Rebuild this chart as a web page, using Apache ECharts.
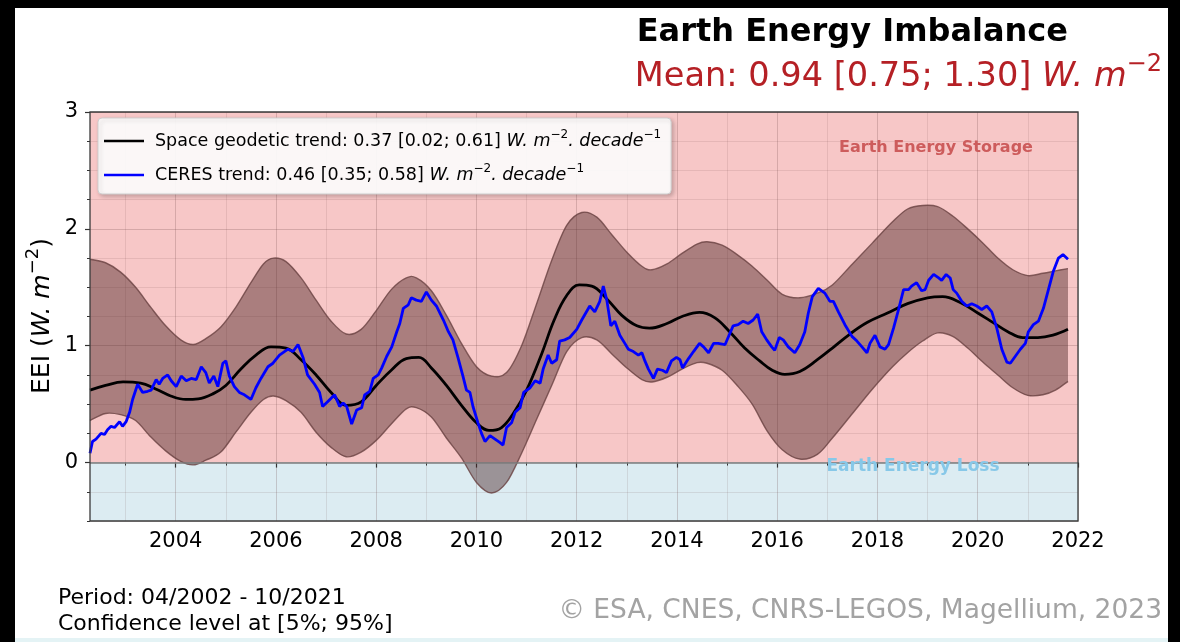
<!DOCTYPE html>
<html>
<head>
<meta charset="utf-8">
<script src="https://cdn.jsdelivr.net/npm/echarts@6.0.0/dist/echarts.min.js"></script>
<style>
  html, body { margin: 0; padding: 0; background: #ffffff; }
  #chart { width: 1180px; height: 642px; }
</style>
</head>
<body>
<div id="chart"></div>
<script>
// Space geodetic estimate of the Earth Energy Imbalance (smoothed), W.m-2
const geodeticYears = [2002.29, 2002.6, 2002.95, 2003.3, 2003.6, 2003.9, 2004.2, 2004.45, 2004.75, 2005.0,
  2005.3, 2005.6, 2005.9, 2006.2, 2006.5, 2006.8, 2007.1, 2007.4, 2007.7, 2008.0,
  2008.3, 2008.6, 2008.85, 2009.1, 2009.4, 2009.7, 2010.0, 2010.25, 2010.5, 2010.75,
  2011.0, 2011.3, 2011.55, 2011.8, 2012.05, 2012.3, 2012.6, 2012.9, 2013.2, 2013.45,
  2013.8, 2014.1, 2014.45, 2014.75, 2015.05, 2015.35, 2015.65, 2015.9, 2016.15, 2016.45,
  2016.8, 2017.1, 2017.45, 2017.8, 2018.2, 2018.6, 2019.0, 2019.3, 2019.65, 2020.0,
  2020.3, 2020.6, 2020.9, 2021.2, 2021.5, 2021.8];
const geodeticValues = [0.62, 0.66, 0.69, 0.68, 0.63, 0.57, 0.54, 0.545, 0.59, 0.66,
  0.80, 0.92, 0.99, 0.98, 0.88, 0.75, 0.60, 0.49, 0.52, 0.66,
  0.79, 0.89, 0.90, 0.81, 0.66, 0.49, 0.34, 0.275, 0.30, 0.43,
  0.62, 0.93, 1.22, 1.43, 1.52, 1.51, 1.40, 1.26, 1.17, 1.15,
  1.19, 1.25, 1.285, 1.24, 1.12, 0.98, 0.87, 0.79, 0.755, 0.78,
  0.88, 0.98, 1.10, 1.20, 1.28, 1.36, 1.41, 1.42, 1.37, 1.28,
  1.20, 1.12, 1.07, 1.07, 1.09, 1.14];

// Confidence interval [5%; 95%] of the space geodetic estimate
const bandYears = [2002.29, 2002.6, 2002.9, 2003.2, 2003.5, 2003.8, 2004.1, 2004.35, 2004.6, 2004.9,
  2005.2, 2005.5, 2005.75, 2005.95, 2006.2, 2006.5, 2006.8, 2007.1, 2007.4, 2007.7,
  2008.0, 2008.3, 2008.6, 2008.8, 2009.1, 2009.4, 2009.7, 2010.0, 2010.3, 2010.6,
  2010.9, 2011.2, 2011.5, 2011.8, 2012.1, 2012.4, 2012.7, 2013.0, 2013.3, 2013.5,
  2013.8, 2014.1, 2014.4, 2014.6, 2014.9, 2015.2, 2015.5, 2015.8, 2016.1, 2016.45,
  2016.8, 2017.1, 2017.5, 2017.9, 2018.3, 2018.6, 2018.9, 2019.2, 2019.5, 2019.8,
  2020.1, 2020.4, 2020.7, 2021.0, 2021.3, 2021.55, 2021.8];
const bandUpper = [1.74, 1.71, 1.63, 1.50, 1.33, 1.17, 1.05, 1.01, 1.06, 1.16,
  1.33, 1.54, 1.70, 1.75, 1.72, 1.58, 1.39, 1.21, 1.10, 1.14,
  1.30, 1.48, 1.58, 1.58, 1.47, 1.26, 1.02, 0.82, 0.74, 0.77,
  1.00, 1.36, 1.73, 2.03, 2.14, 2.10, 1.95, 1.80, 1.68, 1.65,
  1.70, 1.79, 1.87, 1.89, 1.86, 1.78, 1.68, 1.56, 1.44, 1.41,
  1.45, 1.52, 1.70, 1.88, 2.06, 2.17, 2.20, 2.19, 2.11, 2.00,
  1.88, 1.75, 1.65, 1.60, 1.62, 1.64, 1.66];
const bandLower = [0.36, 0.42, 0.41, 0.36, 0.22, 0.10, 0.01, -0.02, 0.02, 0.09,
  0.26, 0.43, 0.54, 0.57, 0.53, 0.43, 0.26, 0.13, 0.05, 0.09,
  0.19, 0.33, 0.46, 0.47, 0.39, 0.21, 0.04, -0.17, -0.26, -0.17,
  0.08, 0.37, 0.66, 0.95, 1.07, 1.05, 0.93, 0.81, 0.71, 0.69,
  0.73, 0.80, 0.855, 0.85, 0.79, 0.66, 0.50, 0.27, 0.11, 0.03,
  0.07, 0.21, 0.42, 0.63, 0.82, 0.94, 1.04, 1.11, 1.08, 0.98,
  0.86, 0.75, 0.64, 0.575, 0.58, 0.62, 0.695];

// CERES monthly series, W.m-2
const ceresYears = [2002.29, 2002.34, 2002.41, 2002.51, 2002.58, 2002.64, 2002.71, 2002.78, 2002.88, 2002.94,
  2003.01, 2003.08, 2003.14, 2003.24, 2003.34, 2003.44, 2003.51, 2003.61, 2003.67, 2003.74,
  2003.84, 2003.91, 2004.01, 2004.11, 2004.21, 2004.31, 2004.41, 2004.51, 2004.60, 2004.67,
  2004.76, 2004.84, 2004.94, 2005.00, 2005.07, 2005.17, 2005.27, 2005.37, 2005.50, 2005.60,
  2005.70, 2005.84, 2005.94, 2006.07, 2006.24, 2006.34, 2006.44, 2006.54, 2006.63, 2006.77,
  2006.87, 2006.93, 2007.03, 2007.17, 2007.27, 2007.34, 2007.41, 2007.51, 2007.61, 2007.71,
  2007.77, 2007.87, 2007.94, 2008.04, 2008.11, 2008.21, 2008.31, 2008.41, 2008.47, 2008.54,
  2008.64, 2008.70, 2008.80, 2008.90, 2009.00, 2009.10, 2009.20, 2009.34, 2009.44, 2009.53,
  2009.63, 2009.73, 2009.80, 2009.87, 2009.93, 2010.03, 2010.10, 2010.17, 2010.27, 2010.37,
  2010.47, 2010.53, 2010.60, 2010.70, 2010.77, 2010.87, 2010.94, 2011.07, 2011.17, 2011.27,
  2011.33, 2011.43, 2011.50, 2011.60, 2011.66, 2011.76, 2011.86, 2012.00, 2012.10, 2012.26,
  2012.36, 2012.46, 2012.53, 2012.60, 2012.68, 2012.76, 2012.86, 2012.96, 2013.03, 2013.13,
  2013.23, 2013.30, 2013.36, 2013.43, 2013.53, 2013.61, 2013.71, 2013.79, 2013.89, 2013.99,
  2014.06, 2014.11, 2014.23, 2014.33, 2014.45, 2014.53, 2014.63, 2014.73, 2014.82, 2014.96,
  2015.02, 2015.12, 2015.22, 2015.32, 2015.42, 2015.52, 2015.61, 2015.69, 2015.79, 2015.89,
  2015.95, 2016.04, 2016.12, 2016.22, 2016.35, 2016.45, 2016.55, 2016.62, 2016.70, 2016.82,
  2016.95, 2017.05, 2017.12, 2017.22, 2017.35, 2017.49, 2017.59, 2017.69, 2017.79, 2017.85,
  2017.95, 2018.05, 2018.15, 2018.22, 2018.32, 2018.42, 2018.52, 2018.62, 2018.68, 2018.78,
  2018.88, 2018.95, 2019.02, 2019.12, 2019.22, 2019.28, 2019.37, 2019.45, 2019.51, 2019.58,
  2019.68, 2019.78, 2019.88, 2019.98, 2020.08, 2020.18, 2020.28, 2020.38, 2020.48, 2020.58,
  2020.65, 2020.75, 2020.85, 2020.95, 2021.01, 2021.11, 2021.21, 2021.31, 2021.41, 2021.51,
  2021.61, 2021.70, 2021.80];
const ceresValues = [0.08, 0.18, 0.20, 0.25, 0.24, 0.28, 0.31, 0.30, 0.35, 0.31,
  0.35, 0.43, 0.54, 0.67, 0.60, 0.61, 0.62, 0.71, 0.67, 0.72,
  0.75, 0.70, 0.65, 0.74, 0.70, 0.72, 0.71, 0.82, 0.77, 0.68,
  0.74, 0.65, 0.85, 0.87, 0.74, 0.65, 0.60, 0.58, 0.54, 0.64,
  0.72, 0.82, 0.85, 0.92, 0.97, 0.95, 1.01, 0.90, 0.75, 0.67,
  0.60, 0.48, 0.52, 0.58, 0.48, 0.51, 0.48, 0.33, 0.45, 0.47,
  0.58, 0.61, 0.72, 0.75, 0.81, 0.91, 0.99, 1.12, 1.19, 1.32,
  1.35, 1.41, 1.39, 1.38, 1.46, 1.39, 1.34, 1.22, 1.12, 1.05,
  0.90, 0.74, 0.62, 0.60, 0.48, 0.34, 0.25, 0.18, 0.23, 0.20,
  0.17, 0.15, 0.30, 0.34, 0.43, 0.47, 0.60, 0.64, 0.70, 0.68,
  0.80, 0.92, 0.85, 0.88, 1.04, 1.05, 1.07, 1.14, 1.22, 1.34,
  1.29, 1.38, 1.51, 1.39, 1.17, 1.21, 1.09, 1.02, 0.97, 0.95,
  0.92, 0.94, 0.87, 0.80, 0.72, 0.80, 0.79, 0.77, 0.87, 0.90,
  0.88, 0.81, 0.89, 0.95, 1.02, 0.99, 0.94, 1.02, 1.02, 1.01,
  1.07, 1.17, 1.18, 1.21, 1.19, 1.22, 1.27, 1.12, 1.05, 0.99,
  0.96, 1.07, 1.05, 0.99, 0.94, 1.01, 1.12, 1.28, 1.42, 1.49,
  1.45, 1.38, 1.38, 1.29, 1.18, 1.08, 1.04, 0.99, 0.94, 1.02,
  1.09, 0.99, 0.97, 1.01, 1.15, 1.31, 1.48, 1.48, 1.51, 1.54,
  1.47, 1.48, 1.56, 1.61, 1.58, 1.56, 1.61, 1.58, 1.48, 1.45,
  1.38, 1.34, 1.36, 1.34, 1.31, 1.34, 1.29, 1.15, 0.97, 0.86,
  0.85, 0.91, 0.97, 1.02, 1.12, 1.18, 1.21, 1.32, 1.48, 1.64,
  1.75, 1.78, 1.74];

// Axis ticks
const xMajorTicks = [2004, 2006, 2008, 2010, 2012, 2014, 2016, 2018, 2020, 2022];
const xMinorTicks = [2003, 2005, 2007, 2009, 2011, 2013, 2015, 2017, 2019, 2021];
const yMajorTicks = [0, 1, 2, 3];

const FONT = 'DejaVu Sans';
const zip = (xs, ys) => xs.map((x, i) => [x, ys[i]]);

// Rich text styles for "W. m^-2" style unit strings (color for components, fill for graphics)
const unitRich = (size, color) => {
  const sup = Math.round(size * 0.7);
  return {
    t: { fontFamily: FONT, fontSize: size, color: color, fill: color, lineHeight: size + 4 },
    i: { fontFamily: FONT, fontSize: size, fontStyle: 'italic', color: color, fill: color, lineHeight: size + 4 },
    s: { fontFamily: FONT, fontSize: sup, color: color, fill: color, lineHeight: sup, padding: [0, 0, sup, 0] }
  };
};

const legendText = {
  'Space geodetic trend': '{t|Space geodetic trend: 0.37 [0.02; 0.61] }{i|W. m}{s|\u22122}{i|. decade}{s|\u22121}',
  'CERES trend': '{t|CERES trend: 0.46 [0.35; 0.58] }{i|W. m}{s|\u22122}{i|. decade}{s|\u22121}'
};

// Smooth path through screen points (Catmull-Rom converted to cubic Bezier)
function smoothPath(pts, start) {
  let d = (start ? 'M' : 'L') + pts[0][0] + ',' + pts[0][1];
  for (let i = 0; i < pts.length - 1; i++) {
    const p0 = pts[i - 1] || pts[i], p1 = pts[i], p2 = pts[i + 1], p3 = pts[i + 2] || p2;
    const c1x = p1[0] + (p2[0] - p0[0]) / 6, c1y = p1[1] + (p2[1] - p0[1]) / 6;
    const c2x = p2[0] - (p3[0] - p1[0]) / 6, c2y = p2[1] - (p3[1] - p1[1]) / 6;
    d += 'C' + c1x + ',' + c1y + ',' + c2x + ',' + c2y + ',' + p2[0] + ',' + p2[1];
  }
  return d;
}

const chart = echarts.init(document.getElementById('chart'), null, { renderer: 'canvas' });

const minorGrid = 'rgba(110,70,70,0.13)';
const majorGrid = 'rgba(110,70,70,0.24)';
const bandEdge = 'rgba(105,65,65,0.8)';
const bandFill = 'rgba(70,30,30,0.43)';

chart.setOption({
  animation: false,
  backgroundColor: '#ffffff',
  grid: {
    left: 90, right: 102, top: 112, bottom: 121,
    show: true, z: 5,
    backgroundColor: 'transparent',
    borderColor: '#3a3a3a', borderWidth: 1.3
  },
  legend: {
    left: 98, top: 118,
    orient: 'vertical',
    itemGap: 10, itemWidth: 40, itemHeight: 2.5,
    padding: [11, 10, 7, 6],
    backgroundColor: 'rgba(255,255,255,0.92)',
    borderColor: '#cfcfcf', borderWidth: 1, borderRadius: 4,
    shadowBlur: 4, shadowColor: 'rgba(0,0,0,0.22)', shadowOffsetX: 2, shadowOffsetY: 2,
    data: [
      { name: 'Space geodetic trend', icon: 'rect' },
      { name: 'CERES trend', icon: 'rect' }
    ],
    formatter: name => legendText[name],
    textStyle: { fontFamily: FONT, fontSize: 17.5, color: '#000', padding: [0, 0, 0, 6], rich: unitRich(17.5, '#000') }
  },
  xAxis: [
    {
      type: 'value', min: 2002.29, max: 2022, splitNumber: 10, position: 'bottom', z: 1,
      axisLine: { show: false },
      axisTick: { show: true, customValues: xMajorTicks, length: 5, lineStyle: { color: '#333', width: 1.2 } },
      axisLabel: { customValues: xMajorTicks, formatter: v => String(Math.round(v)),
                   fontFamily: FONT, fontSize: 21, color: '#000', margin: 10 },
      splitLine: { show: true, lineStyle: { color: majorGrid, width: 1 } }
    },
    {
      type: 'value', min: 2002.29, max: 2022, splitNumber: 10, position: 'bottom', z: 1,
      axisLine: { show: false },
      axisTick: { show: true, customValues: xMinorTicks, length: 3, lineStyle: { color: '#333', width: 1 } },
      axisLabel: { show: false },
      splitLine: { show: true, lineStyle: { color: minorGrid, width: 1 } }
    }
  ],
  yAxis: [
    {
      type: 'value', min: -0.5, max: 3, interval: 0.25, position: 'left', z: 1,
      axisLine: { show: false },
      axisTick: { show: true, length: 3, lineStyle: { color: '#333', width: 1 } },
      axisLabel: { show: false },
      splitLine: { show: true, lineStyle: { color: minorGrid, width: 1 } }
    },
    {
      type: 'value', min: -0.5, max: 3, position: 'left', z: 1,
      axisLine: { show: false },
      axisTick: { show: true, customValues: yMajorTicks, length: 5, lineStyle: { color: '#333', width: 1.2 } },
      axisLabel: { customValues: yMajorTicks, formatter: v => String(v),
                   fontFamily: FONT, fontSize: 21, color: '#000', margin: 12 },
      splitLine: { show: true, lineStyle: { color: minorGrid, width: 1 } }
    }
  ],
  series: [
    {
      name: 'Confidence interval',
      type: 'custom',
      coordinateSystem: 'cartesian2d',
      silent: true, z: 2,
      data: bandYears.map((x, i) => [x, bandLower[i], bandUpper[i]]),
      encode: { x: 0, y: [1, 2] },
      renderItem: (params, api) => {
        if (params.dataIndex !== 0) return null;
        const up = bandYears.map((x, i) => api.coord([x, bandUpper[i]]));
        const lo = bandYears.map((x, i) => api.coord([x, bandLower[i]]));
        const upPath = smoothPath(up, true);
        const loPath = smoothPath(lo, true);
        const fillPath = upPath + smoothPath(lo.slice().reverse(), false) + 'Z';
        return {
          type: 'group',
          children: [
            { type: 'path', shape: { pathData: fillPath }, style: { fill: bandFill, stroke: null } },
            { type: 'path', shape: { pathData: upPath }, style: { fill: null, stroke: bandEdge, lineWidth: 1.4 } },
            { type: 'path', shape: { pathData: loPath }, style: { fill: null, stroke: bandEdge, lineWidth: 1.4 } }
          ]
        };
      }
    },
    {
      name: 'Space geodetic trend',
      type: 'line',
      data: zip(geodeticYears, geodeticValues),
      smooth: 0.4, symbol: 'none', z: 3,
      itemStyle: { color: '#000000' },
      lineStyle: { color: '#000000', width: 2.8 },
      markArea: {
        silent: true, z: 0.5,
        label: { show: false },
        data: [
          [{ yAxis: 0, itemStyle: { color: '#f7c7c7' } }, { yAxis: 3 }],
          [{ yAxis: -0.5, itemStyle: { color: '#dcecf2' } }, { yAxis: 0 }]
        ]
      },
      markLine: {
        silent: true, symbol: 'none', z: 2.5,
        label: { show: false },
        lineStyle: { color: '#7c7c7c', width: 1.6, type: 'solid' },
        data: [{ yAxis: 0 }]
      }
    },
    {
      name: 'CERES trend',
      type: 'line',
      data: zip(ceresYears, ceresValues),
      symbol: 'none', z: 4,
      itemStyle: { color: '#0000ff' },
      lineStyle: { color: '#0000ff', width: 2.8 }
    }
  ],
  graphic: [
    { type: 'rect', z: 100, shape: { x: 0, y: 0, width: 1180, height: 8 }, style: { fill: '#000' } },
    { type: 'rect', z: 100, shape: { x: 0, y: 0, width: 15, height: 642 }, style: { fill: '#000' } },
    { type: 'rect', z: 100, shape: { x: 1168, y: 0, width: 12, height: 642 }, style: { fill: '#000' } },
    { type: 'rect', z: 100, shape: { x: 15, y: 638, width: 1153, height: 4 }, style: { fill: '#e4f3f5' } },
    {
      type: 'text', z: 50, x: 1068, y: 33,
      style: { text: 'Earth Energy Imbalance', font: 'bold 32px "DejaVu Sans"', fill: '#000', align: 'right', verticalAlign: 'middle' }
    },
    {
      type: 'text', z: 50, x: 1162, y: 77,
      style: {
        text: '{t|Mean: 0.94 [0.75; 1.30] }{i|W. m}{s|\u22122}',
        align: 'right', verticalAlign: 'middle',
        rich: unitRich(33.6, '#b52025')
      }
    },
    {
      type: 'text', z: 50, x: 42, y: 316, rotation: Math.PI / 2,
      style: {
        text: '{t|EEI (}{i|W. m}{s|\u22122}{t|)}',
        align: 'center', verticalAlign: 'middle',
        rich: unitRich(25, '#000')
      }
    },
    {
      type: 'text', z: 50, x: 936, y: 148,
      style: { text: 'Earth Energy Storage', font: 'bold 16px "DejaVu Sans"', fill: '#cd5c5c', align: 'center', verticalAlign: 'middle' }
    },
    {
      type: 'text', z: 50, x: 913, y: 467,
      style: { text: 'Earth Energy Loss', font: 'bold 17px "DejaVu Sans"', fill: '#87c8e8', align: 'center', verticalAlign: 'middle' }
    },
    {
      type: 'text', z: 50, x: 58, y: 598,
      style: { text: 'Period: 04/2002 - 10/2021', font: '22px "DejaVu Sans"', fill: '#000', align: 'left', verticalAlign: 'middle' }
    },
    {
      type: 'text', z: 50, x: 58, y: 624,
      style: { text: 'Confidence level at [5%; 95%]', font: '22px "DejaVu Sans"', fill: '#000', align: 'left', verticalAlign: 'middle' }
    },
    {
      type: 'text', z: 50, x: 1162, y: 611,
      style: { text: '\u00a9 ESA, CNES, CNRS-LEGOS, Magellium, 2023', font: '26.5px "DejaVu Sans"', fill: '#a3a3a3', align: 'right', verticalAlign: 'middle' }
    }
  ]
});
</script>
</body>
</html>
